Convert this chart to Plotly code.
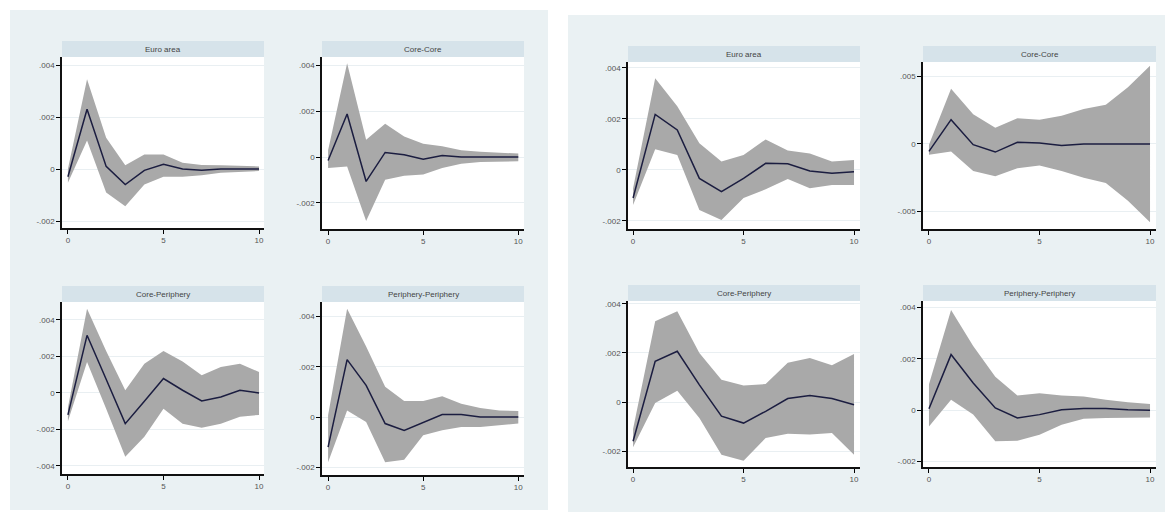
import plotly.graph_objects as go

W, H = 1171, 517

steps = list(range(11))
x_ticks = [0, 5, 10]
x_ticktext = ["0", "5", "10"]

# ---- Left panel ----
l_ea_irf = [-0.0003, 0.0023, 0.0001, -0.0006, -0.00005, 0.00018, 0.0, -0.00005, 0.0, 0.0, 0.0]
l_ea_hi = [0.0, 0.00345, 0.0012, 0.00014, 0.00056, 0.00056, 0.00024, 0.00015, 0.00014, 0.00013, 0.0001]
l_ea_lo = [-0.00053, 0.0011, -0.0009, -0.00143, -0.0006, -0.0003, -0.0003, -0.00024, -0.00014, -0.0001, -0.00008]

l_cc_irf = [-0.00015, 0.00188, -0.00107, 0.0002, 0.0001, -0.0001, 0.00007, 0.0, 0.0, 0.0, 0.0]
l_cc_hi = [0.0003, 0.0041, 0.00076, 0.00146, 0.0009, 0.00058, 0.00047, 0.0003, 0.00023, 0.00018, 0.00015]
l_cc_lo = [-0.00048, -0.00041, -0.0028, -0.001, -0.00082, -0.00077, -0.00048, -0.0003, -0.00022, -0.00019, -0.00019]

l_cp_irf = [-0.0012, 0.00316, 0.00075, -0.00168, -0.00045, 0.00079, 0.00015, -0.00044, -0.00022, 0.00015, 0.0]
l_cp_hi = [-0.0008, 0.00462, 0.0023, 0.00015, 0.0016, 0.0023, 0.00173, 0.00097, 0.00142, 0.0016, 0.00115]
l_cp_lo = [-0.00155, 0.0017, -0.00086, -0.0035, -0.0024, -0.00086, -0.00168, -0.0019, -0.00168, -0.0013, -0.0012]

l_pp_irf = [-0.0012, 0.00228, 0.00126, -0.00026, -0.00053, -0.0002, 0.0001, 0.0001, 0.0, 0.0, 0.0]
l_pp_hi = [0.00007, 0.0043, 0.0028, 0.0012, 0.00064, 0.00064, 0.00083, 0.00053, 0.00036, 0.00026, 0.00024]
l_pp_lo = [-0.0018, 0.00026, -0.0002, -0.0018, -0.0017, -0.00073, -0.00053, -0.0004, -0.0004, -0.00033, -0.00026]

# ---- Right panel ----
r_ea_irf = [-0.0011, 0.00218, 0.00157, -0.00033, -0.00085, -0.00033, 0.00026, 0.00024, -0.00004, -0.00013, -0.00007]
r_ea_hi = [-0.00072, 0.0036, 0.0025, 0.00105, 0.00033, 0.00059, 0.0012, 0.00076, 0.00065, 0.00033, 0.00039]
r_ea_lo = [-0.00137, 0.00081, 0.00059, -0.00157, -0.00196, -0.0011, -0.00076, -0.00035, -0.00072, -0.00059, -0.00059]

r_cc_irf = [-0.00055, 0.0018, -0.00005, -0.0006, 0.00012, 0.00007, -0.00012, 0.0, 0.0, 0.0, 0.0]
r_cc_hi = [-0.00005, 0.0041, 0.0022, 0.0012, 0.0019, 0.0018, 0.0021, 0.0026, 0.0029, 0.0042, 0.0058]
r_cc_lo = [-0.0008, -0.00055, -0.002, -0.0024, -0.0018, -0.0016, -0.002, -0.0025, -0.0029, -0.0042, -0.0058]

r_cp_irf = [-0.0016, 0.00166, 0.00207, 0.0007, -0.00058, -0.00086, -0.00038, 0.00014, 0.00026, 0.00014, -0.00011]
r_cp_hi = [-0.0011, 0.0033, 0.0037, 0.002, 0.00091, 0.00067, 0.00073, 0.0016, 0.0018, 0.0015, 0.00196]
r_cp_lo = [-0.00185, -0.00004, 0.00046, -0.00065, -0.00215, -0.0024, -0.00147, -0.0013, -0.00133, -0.00127, -0.00215]

r_pp_irf = [0.00005, 0.00216, 0.00105, 0.00008, -0.00031, -0.00018, 0.00001, 0.00006, 0.00006, 0.00001, -0.00001]
r_pp_hi = [0.001, 0.0039, 0.0025, 0.0013, 0.00057, 0.00065, 0.00057, 0.00053, 0.0004, 0.0003, 0.00023]
r_pp_lo = [-0.00064, 0.0004, -0.00018, -0.00122, -0.0012, -0.00096, -0.00057, -0.00034, -0.00031, -0.00029, -0.00029]

titles = ["Euro area", "Core-Core", "Core-Periphery", "Periphery-Periphery",
          "Euro area", "Core-Core", "Core-Periphery", "Periphery-Periphery"]

yt_002 = [-0.002, 0, 0.002, 0.004]
yt_002_txt = ["-.002", "0", ".002", ".004"]
yt_004 = [-0.004, -0.002, 0, 0.002, 0.004]
yt_004_txt = ["-.004", "-.002", "0", ".002", ".004"]
yt_005 = [-0.005, 0, 0.005]
yt_005_txt = ["-.005", "0", ".005"]

series = [
    (l_ea_irf, l_ea_lo, l_ea_hi), (l_cc_irf, l_cc_lo, l_cc_hi),
    (l_cp_irf, l_cp_lo, l_cp_hi), (l_pp_irf, l_pp_lo, l_pp_hi),
    (r_ea_irf, r_ea_lo, r_ea_hi), (r_cc_irf, r_cc_lo, r_cc_hi),
    (r_cp_irf, r_cp_lo, r_cp_hi), (r_pp_irf, r_pp_lo, r_pp_hi),
]

# layout geometry (pixels): x0, x1, y_top, y_bottom, y range, x range, yticks
geo = [
    (62, 264, 57, 228, [-0.002269, 0.004308], [-0.31, 10.26], yt_002, yt_002_txt),
    (322, 524, 57, 229, [-0.00315, 0.004376], [-0.32, 10.3], yt_002, yt_002_txt),
    (62, 264, 302, 474, [-0.00444, 0.004986], [-0.31, 10.26], yt_004, yt_004_txt),
    (322, 524, 302, 475, [-0.002306, 0.004573], [-0.32, 10.3], yt_002, yt_002_txt),
    (628, 860, 62, 229, [-0.002314, 0.004235], [-0.23, 10.27], yt_002, yt_002_txt),
    (923, 1156, 62, 229, [-0.0063, 0.006074], [-0.27, 10.27], yt_005, yt_005_txt),
    (628, 860, 301, 467, [-0.002653, 0.004122], [-0.23, 10.27], yt_002, yt_002_txt),
    (923, 1156, 301, 467, [-0.002222, 0.00425], [-0.27, 10.27], yt_002, yt_002_txt),
]

BG = "#eaf1f3"
STRIP = "#d6e3ea"
BAND = "#a9a9a9"
LINE = "#1b1d40"
FONT = "Liberation Sans"

def px(v):
    return v / W

def py(v):
    return 1 - v / H

fig = go.Figure()
shapes = []
annotations = []

# panel backgrounds
shapes.append(dict(type="rect", xref="paper", yref="paper", x0=px(10), x1=px(548),
                   y0=py(510), y1=py(10), fillcolor=BG, line=dict(width=0), layer="below"))
shapes.append(dict(type="rect", xref="paper", yref="paper", x0=px(568), x1=px(1165),
                   y0=py(512), y1=py(15), fillcolor=BG, line=dict(width=0), layer="below"))

layout_axes = {}
for i, ((irf, lo, hi), g) in enumerate(zip(series, geo)):
    n = i + 1
    x0, x1, yt, yb, yr, xr, tv, tt = g
    xa = "x" if n == 1 else f"x{n}"
    ya = "y" if n == 1 else f"y{n}"
    fig.add_trace(go.Scatter(x=steps, y=lo, mode="lines", line=dict(width=0, color=BAND),
                             xaxis=xa, yaxis=ya, showlegend=False, hoverinfo="skip"))
    fig.add_trace(go.Scatter(x=steps, y=hi, mode="lines", line=dict(width=0, color=BAND),
                             fill="tonexty", fillcolor=BAND,
                             xaxis=xa, yaxis=ya, showlegend=False, hoverinfo="skip"))
    fig.add_trace(go.Scatter(x=steps, y=irf, mode="lines", line=dict(width=1.5, color=LINE),
                             xaxis=xa, yaxis=ya, showlegend=False))
    layout_axes[f"xaxis{'' if n == 1 else n}"] = dict(
        domain=[px(x0), px(x1)], range=xr, anchor=ya,
        tickvals=x_ticks, ticktext=x_ticktext, ticks="outside", ticklen=4,
        tickcolor="#000", tickwidth=1, showgrid=False, zeroline=False,
        showline=True, linecolor="#111", linewidth=1.5,
        tickfont=dict(size=8, color="#555", family=FONT))
    layout_axes[f"yaxis{'' if n == 1 else n}"] = dict(
        domain=[py(yb), py(yt)], range=yr, anchor=xa,
        tickvals=tv, ticktext=tt, ticks="outside", ticklen=4,
        tickcolor="#000", tickwidth=1, showgrid=True, gridcolor="#e9eff2", gridwidth=1,
        zeroline=False, showline=True, linecolor="#111", linewidth=1.5,
        tickfont=dict(size=8, color="#555", family=FONT))
    # white plot area
    shapes.append(dict(type="rect", xref="paper", yref="paper", x0=px(x0), x1=px(x1),
                       y0=py(yb), y1=py(yt), fillcolor="white", line=dict(width=0), layer="below"))
    # strip
    shapes.append(dict(type="rect", xref="paper", yref="paper", x0=px(x0), x1=px(x1),
                       y0=py(yt), y1=py(yt - 16), fillcolor=STRIP, line=dict(width=0), layer="below"))
    annotations.append(dict(xref="paper", yref="paper", x=px((x0 + x1) / 2), y=py(yt - 8),
                            text=titles[i], showarrow=False, xanchor="center", yanchor="middle",
                            font=dict(size=8, color="#444", family=FONT)))

fig.update_layout(
    width=W, height=H, margin=dict(l=0, r=0, t=0, b=0),
    paper_bgcolor="white", plot_bgcolor="rgba(0,0,0,0)",
    shapes=shapes, annotations=annotations, showlegend=False,
    **layout_axes,
)

fig.write_html("out.html", config={"displayModeBar": False},
               post_script="document.body.style.margin='0';document.body.style.padding='0';")
